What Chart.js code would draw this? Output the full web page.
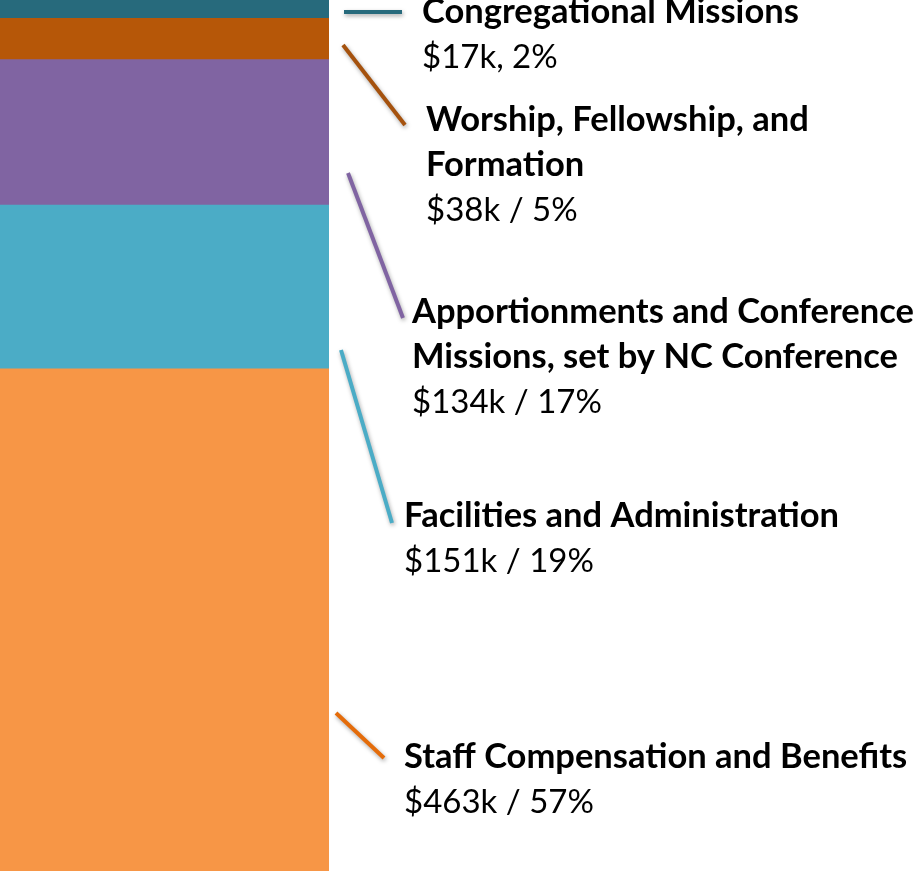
<!DOCTYPE html>
<html>
<head>
<meta charset="utf-8">
<script src="https://cdn.jsdelivr.net/npm/chart.js@4.4.1/dist/chart.umd.min.js"></script>
<style>
  html, body { margin: 0; padding: 0; background: #fff; }
  #wrap { width: 919px; height: 871px; position: relative; }
</style>
</head>
<body>
<div id="wrap"><canvas id="orcamento"></canvas></div>
<script>
// Categorias de baixo para cima (ordem de empilhamento)
const categorias = [
    'Staff Compensation and Benefits',
    'Facilities and Administration',
    'Apportionments and Conference Missions, set by NC Conference',
    'Worship, Fellowship, and Formation',
    'Congregational Missions'
];

// Valores em milhares de dólares
const valores = [463, 151, 134, 38, 17];
const porcentagens = [57, 19, 17, 5, 2];
const separadores = [' / ', ' / ', ' / ', ' / ', ', '];

const coresBarra = ['#F79646', '#4BACC6', '#8064A2', '#B65708', '#276A7C'];
const coresLinha = ['#E46C0A', '#4BACC6', '#8064A2', '#A5520E', '#276A7C'];

// Quebra das linhas dos rótulos
const linhasRotulo = [
    ['Staff Compensation and Benefits'],
    ['Facilities and Administration'],
    ['Apportionments and Conference', 'Missions, set by NC Conference'],
    ['Worship, Fellowship, and', 'Formation'],
    ['Congregational Missions']
];

// Posição dos rótulos e linhas guia (x, y da primeira linha de base)
const layoutRotulos = [
    { x: 404, y: 768, linha: [336, 713, 384, 758] },
    { x: 404, y: 527, linha: [341, 350, 392, 523] },
    { x: 412, y: 323, linha: [348, 173, 403, 318] },
    { x: 426, y: 131, linha: [343, 45, 405, 125] },
    { x: 422, y: 23, linha: [344, 12, 402, 12] }
];

const total = valores.reduce((a, b) => a + b, 0);

const rotulosPlugin = {
    id: 'rotulos',
    afterDraw(chart) {
        const ctx = chart.ctx;
        ctx.save();
        layoutRotulos.forEach((pos, i) => {
            // linha guia com leve sombra
            ctx.save();
            ctx.strokeStyle = coresLinha[i];
            ctx.lineWidth = 4;
            ctx.shadowColor = 'rgba(0,0,0,0.35)';
            ctx.shadowBlur = 4;
            ctx.shadowOffsetX = 1;
            ctx.shadowOffsetY = 2;
            ctx.beginPath();
            ctx.moveTo(pos.linha[0], pos.linha[1]);
            ctx.lineTo(pos.linha[2], pos.linha[3]);
            ctx.stroke();
            ctx.restore();

            ctx.fillStyle = '#000';
            ctx.textBaseline = 'alphabetic';
            ctx.textAlign = 'left';
            let y = pos.y;
            ctx.font = 'bold 34.5px Lato, "Open Sans", sans-serif';
            linhasRotulo[i].forEach(t => {
                ctx.fillText(t, pos.x, y);
                y += 45;
            });
            ctx.font = '33px Lato, "Open Sans", sans-serif';
            ctx.fillText('$' + valores[i] + 'k' + separadores[i] + porcentagens[i] + '%', pos.x, y);
        });
        ctx.restore();
    }
};

const ctx = document.getElementById('orcamento').getContext('2d');

new Chart(ctx, {
    type: 'bar',
    data: {
        labels: ['Orçamento'],
        datasets: categorias.map((nome, i) => ({
            label: nome,
            data: [valores[i]],
            backgroundColor: coresBarra[i],
            borderWidth: 0,
            barPercentage: 1,
            categoryPercentage: 1
        }))
    },
    options: {
        responsive: true,
        maintainAspectRatio: false,
        animation: false,
        layout: {
            padding: { left: 0, right: 590, top: 0, bottom: 0 }
        },
        scales: {
            x: { stacked: true, display: false },
            y: { stacked: true, display: false, min: 0, max: total }
        },
        plugins: {
            legend: { display: false },
            tooltip: { enabled: false }
        }
    },
    plugins: [rotulosPlugin]
});
</script>
</body>
</html>
